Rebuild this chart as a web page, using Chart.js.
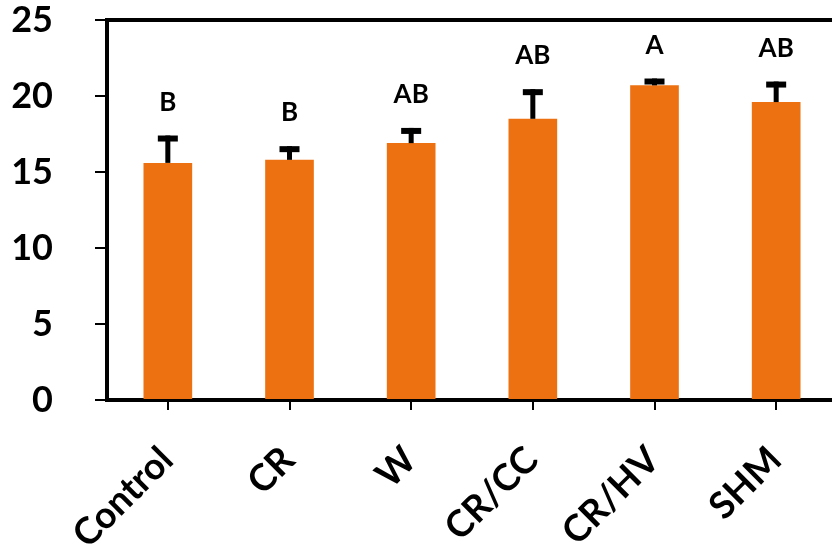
<!DOCTYPE html>
<html>
<head>
<meta charset="utf-8">
<script src="https://cdn.jsdelivr.net/npm/chart.js@4/dist/chart.umd.min.js"></script>
<style>
  html, body { margin: 0; padding: 0; background: #fff; overflow: hidden; width: 832px; height: 544px; }
  #wrap { position: absolute; left: 0; top: 0; width: 837px; height: 544px; }
</style>
</head>
<body>
<div id="wrap"><canvas id="c" width="837" height="544"></canvas></div>
<script>
// Treatments, means, standard errors and significance letters
const categories = ['Control', 'CR', 'W', 'CR/CC', 'CR/HV', 'SHM'];
const means = [15.6, 15.8, 16.9, 18.5, 20.7, 19.6];
const errors = [1.8, 0.9, 1.0, 1.95, 0.45, 1.35];
const letters = ['B', 'B', 'AB', 'AB', 'A', 'AB'];
const yTicks = [0, 5, 10, 15, 20, 25];

const FONT = 'Lato, "Open Sans", "DejaVu Sans", sans-serif';
const BAR_COLOR = '#ED7110';

// Upward error bars, significance letters and the frame lines
const extras = {
  id: 'extras',
  afterDatasetsDraw(chart) {
    const ctx = chart.ctx;
    const y = chart.scales.y;
    const meta = chart.getDatasetMeta(0);
    ctx.save();
    ctx.fillStyle = '#000';
    meta.data.forEach((bar, i) => {
      const x = bar.x;
      const yBar = y.getPixelForValue(means[i]);
      const yTop = y.getPixelForValue(means[i] + errors[i]);
      // stem
      ctx.fillRect(x - 2.5, yTop, 5, yBar - yTop);
      // cap
      ctx.fillRect(x - 10, yTop, 20, 6);
      // letter
      ctx.font = 'bold 26px ' + FONT;
      ctx.textAlign = 'center';
      ctx.textBaseline = 'alphabetic';
      ctx.fillText(letters[i], x, yTop - 25);
    });
    const a = chart.chartArea;
    ctx.fillRect(a.left - 2, a.top - 2, a.right - a.left + 4, 4);
    ctx.fillRect(a.right - 2, a.top - 2, 4, a.bottom - a.top + 4);
    ctx.restore();
  }
};

new Chart(document.getElementById('c'), {
  type: 'bar',
  data: {
    labels: categories,
    datasets: [{
      data: means,
      backgroundColor: BAR_COLOR,
      borderWidth: 0,
      barPercentage: 0.4,
      categoryPercentage: 1
    }]
  },
  options: {
    responsive: false,
    animation: false,
    layout: { padding: { top: 20, right: 0, left: 0, bottom: 0 } },
    plugins: { legend: { display: false }, tooltip: { enabled: false } },
    scales: {
      x: {
        grid: {
          display: true, drawOnChartArea: false, drawTicks: true,
          tickLength: 10, color: '#000', lineWidth: 2, offset: false
        },
        border: { display: true, color: '#000', width: 4 },
        ticks: {
          color: '#000',
          font: { family: FONT, size: 37, weight: 'bold' },
          minRotation: 45, maxRotation: 45,
          padding: 28,
          labelOffset: -1
        },
        afterFit(s) {
          s.height = 144;
          s.paddingLeft = 0; s.paddingRight = 0;
          s.paddingTop = 0; s.paddingBottom = 0;
        }
      },
      y: {
        min: 0, max: 25,
        afterBuildTicks(s) { s.ticks = yTicks.map(v => ({ value: v })); },
        grid: {
          display: true, drawOnChartArea: false, drawTicks: true,
          tickLength: 12, color: '#000', lineWidth: 2
        },
        border: { display: true, color: '#000', width: 4 },
        ticks: {
          color: '#000',
          font: { family: FONT, size: 36, weight: 'bold' },
          padding: 42
        },
        afterFit(s) {
          s.width = 107;
          s.paddingTop = 0; s.paddingBottom = 0;
          s.paddingLeft = 0; s.paddingRight = 0;
        }
      }
    }
  },
  plugins: [extras]
});
</script>
</body>
</html>
